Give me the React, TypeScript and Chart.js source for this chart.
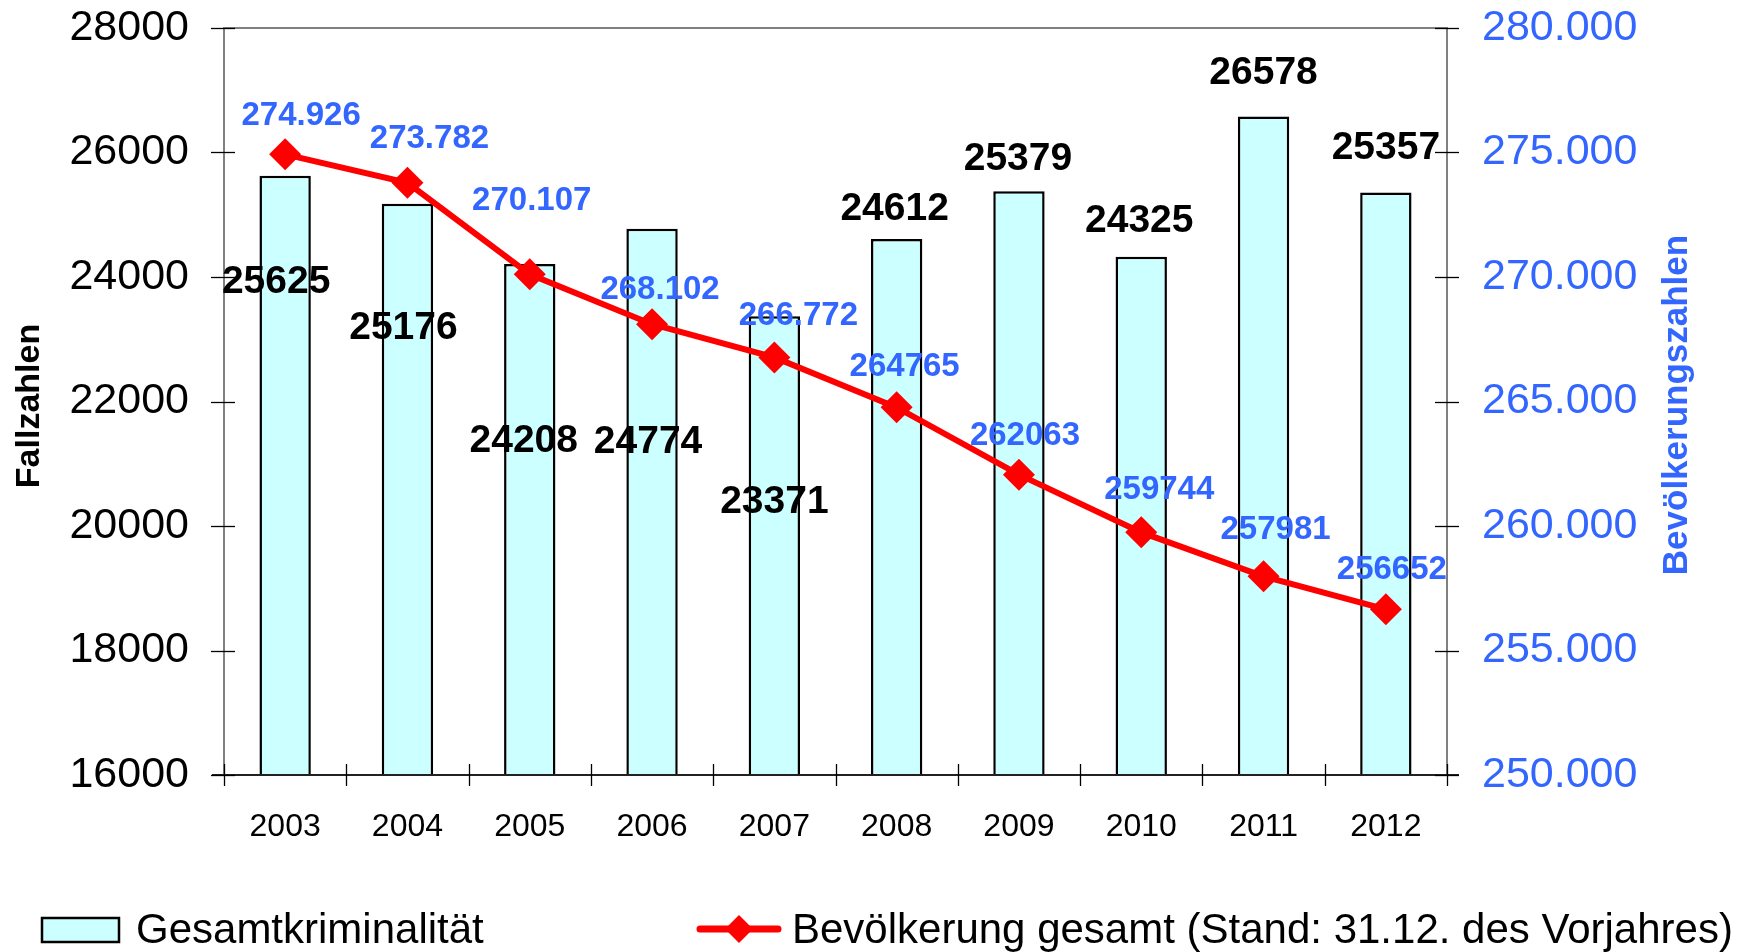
import React, { useEffect, useRef } from 'react';
import { Chart, registerables } from 'chart.js';

Chart.register(...registerables);

// ---- data ----
const years = ['2003', '2004', '2005', '2006', '2007', '2008', '2009', '2010', '2011', '2012'];
const crimeCases = [25625, 25176, 24208, 24774, 23371, 24612, 25379, 24325, 26578, 25357];
const population = [274926, 273782, 270107, 268102, 266772, 264765, 262063, 259744, 257981, 256652];
const populationLabels = ['274.926', '273.782', '270.107', '268.102', '266.772', '264765', '262063', '259744', '257981', '256652'];

const crimeLabel = 'Gesamtkriminalität';
const populationLabel = 'Bevölkerung gesamt (Stand: 31.12. des Vorjahres)';
const leftTitle = 'Fallzahlen';
const rightTitle = 'Bevölkerungszahlen';

// ---- label placement (offsets in px from the mark) ----
const barLabelOffsets = [
  [-9, 106], [-4, 124], [-6, 177], [-4, 213], [0, 186],
  [-2, -30], [-1, -32], [-2, -36], [0, -43], [0, -44],
];
const lineLabelOffsets = [
  [16, -38], [22, -44], [2, -73], [8, -34], [24, -41],
  [8, -40], [6, -39], [18, -42], [12, -46], [6, -39],
];

const FONT = '"Liberation Sans", Arial, Helvetica, sans-serif';
const BLUE = '#3366FF';
const RED = '#FF0000';
const CYAN = '#CCFFFF';

const W = 1742;
const H = 952;

const decorPlugin = {
  id: 'decor',
  afterDatasetsDraw(chart: any) {
    const ctx = chart.ctx as CanvasRenderingContext2D;
    const { left, right, top, bottom } = chart.chartArea;
    ctx.save();

    // plot frame
    ctx.lineWidth = 2;
    ctx.strokeStyle = '#808080';
    ctx.beginPath();
    ctx.moveTo(left, bottom);
    ctx.lineTo(left, top);
    ctx.lineTo(right, top);
    ctx.lineTo(right, bottom);
    ctx.stroke();
    ctx.strokeStyle = '#222222';
    ctx.beginPath();
    ctx.moveTo(left - 12, bottom);
    ctx.lineTo(right + 12, bottom);
    ctx.stroke();

    // tick marks (crossing the axes)
    ctx.lineWidth = 1.3;
    ctx.strokeStyle = '#000000';
    const yS = chart.scales.y;
    yS.ticks.forEach((t: any) => {
      const py = Math.round(yS.getPixelForValue(t.value)) + 0.5;
      ctx.beginPath();
      ctx.moveTo(left - 13, py);
      ctx.lineTo(left + 11, py);
      ctx.stroke();
    });
    const y1S = chart.scales.y1;
    y1S.ticks.forEach((t: any) => {
      const py = Math.round(y1S.getPixelForValue(t.value)) + 0.5;
      ctx.beginPath();
      ctx.moveTo(right - 12, py);
      ctx.lineTo(right + 12, py);
      ctx.stroke();
    });
    const n = years.length;
    for (let i = 0; i <= n; i++) {
      const px = Math.round(left + (i * (right - left)) / n) + 0.5;
      ctx.beginPath();
      ctx.moveTo(px, bottom - 11);
      ctx.lineTo(px, bottom + 11);
      ctx.stroke();
    }

    // bar value labels
    ctx.textAlign = 'center';
    ctx.textBaseline = 'middle';
    ctx.fillStyle = '#000000';
    ctx.font = `bold 39px ${FONT}`;
    const barMeta = chart.getDatasetMeta(1);
    barMeta.data.forEach((el: any, i: number) => {
      const [dx, dy] = barLabelOffsets[i];
      ctx.fillText(String(crimeCases[i]), el.x + dx, el.y + dy);
    });

    // line value labels
    ctx.fillStyle = BLUE;
    ctx.font = `bold 33px ${FONT}`;
    const lineMeta = chart.getDatasetMeta(0);
    lineMeta.data.forEach((el: any, i: number) => {
      const [dx, dy] = lineLabelOffsets[i];
      ctx.fillText(populationLabels[i], el.x + dx, el.y + dy);
    });

    // axis titles
    ctx.textAlign = 'center';
    ctx.textBaseline = 'alphabetic';
    ctx.fillStyle = '#000000';
    ctx.font = `bold 34px ${FONT}`;
    ctx.save();
    ctx.translate(39, 406);
    ctx.rotate(-Math.PI / 2);
    ctx.fillText(leftTitle, 0, 0);
    ctx.restore();

    ctx.fillStyle = BLUE;
    ctx.font = `bold 35px ${FONT}`;
    ctx.save();
    ctx.translate(1687, 405);
    ctx.rotate(-Math.PI / 2);
    ctx.fillText(rightTitle, 0, 0);
    ctx.restore();

    // legend
    ctx.textAlign = 'left';
    ctx.textBaseline = 'alphabetic';
    ctx.font = `42px ${FONT}`;
    ctx.fillStyle = CYAN;
    ctx.fillRect(42, 918, 77, 24);
    ctx.lineWidth = 2.5;
    ctx.strokeStyle = '#000000';
    ctx.strokeRect(42, 918, 77, 24);
    ctx.fillStyle = '#000000';
    ctx.fillText(crimeLabel, 136, 943);

    ctx.strokeStyle = RED;
    ctx.lineWidth = 7;
    ctx.lineCap = 'round';
    ctx.beginPath();
    ctx.moveTo(700, 929);
    ctx.lineTo(778, 929);
    ctx.stroke();
    ctx.fillStyle = RED;
    ctx.beginPath();
    ctx.moveTo(739, 915);
    ctx.lineTo(753, 929);
    ctx.lineTo(739, 943);
    ctx.lineTo(725, 929);
    ctx.closePath();
    ctx.fill();
    ctx.fillStyle = '#000000';
    ctx.fillText(populationLabel, 792, 943);

    ctx.restore();
  },
};

const zeroPad = (s: any) => {
  s.paddingTop = 0;
  s.paddingBottom = 0;
  s.paddingLeft = 0;
  s.paddingRight = 0;
};

export default function App() {
  const canvasRef = useRef<HTMLCanvasElement | null>(null);

  useEffect(() => {
    const canvas = canvasRef.current;
    if (!canvas) return;
    const chart = new Chart(canvas, {
      type: 'bar',
      data: {
        labels: years,
        datasets: [
          {
            type: 'line',
            label: populationLabel,
            data: population,
            yAxisID: 'y1',
            borderColor: RED,
            backgroundColor: RED,
            borderWidth: 6,
            pointStyle: 'rectRot',
            pointRadius: 16,
            pointBackgroundColor: RED,
            pointBorderColor: RED,
            pointBorderWidth: 0,
            tension: 0,
            order: 0,
          } as any,
          {
            type: 'bar',
            label: crimeLabel,
            data: crimeCases,
            yAxisID: 'y',
            backgroundColor: CYAN,
            borderColor: '#000000',
            borderWidth: 2.5,
            barPercentage: 0.42,
            categoryPercentage: 1,
            order: 1,
          },
        ],
      },
      options: {
        responsive: false,
        animation: false,
        layout: { padding: { top: 28, left: 0, right: 0, bottom: 0 } },
        plugins: {
          legend: { display: false },
          tooltip: { enabled: false },
          title: { display: false },
        },
        scales: {
          x: {
            type: 'category',
            offset: true,
            grid: { display: false },
            border: { display: false },
            ticks: {
              color: '#000000',
              font: { family: FONT, size: 32 },
              padding: 25,
              maxRotation: 0,
              autoSkip: false,
            },
            afterFit: (s: any) => {
              zeroPad(s);
              s.height = 952 - 775;
            },
          },
          y: {
            position: 'left',
            min: 16000,
            max: 28000,
            grid: { display: false },
            border: { display: false },
            ticks: {
              stepSize: 2000,
              color: '#000000',
              font: { family: FONT, size: 43 },
              padding: 27,
              callback: (v: any) => String(v),
            },
            afterFit: (s: any) => {
              zeroPad(s);
              s.width = 224;
            },
          },
          y1: {
            position: 'right',
            min: 250000,
            max: 280000,
            grid: { display: false },
            border: { display: false },
            ticks: {
              stepSize: 5000,
              color: BLUE,
              font: { family: FONT, size: 43 },
              padding: 27,
              callback: (v: any) => Number(v).toLocaleString('de-DE'),
            },
            afterFit: (s: any) => {
              zeroPad(s);
              s.width = W - 1447;
            },
          },
        },
      } as any,
      plugins: [decorPlugin],
    });
    return () => chart.destroy();
  }, []);

  return (
    <div style={{ position: 'absolute', left: 0, top: 0, width: W, height: H, background: '#ffffff' }}>
      <canvas ref={canvasRef} width={W} height={H} style={{ display: 'block', width: W, height: H }} />
    </div>
  );
}
